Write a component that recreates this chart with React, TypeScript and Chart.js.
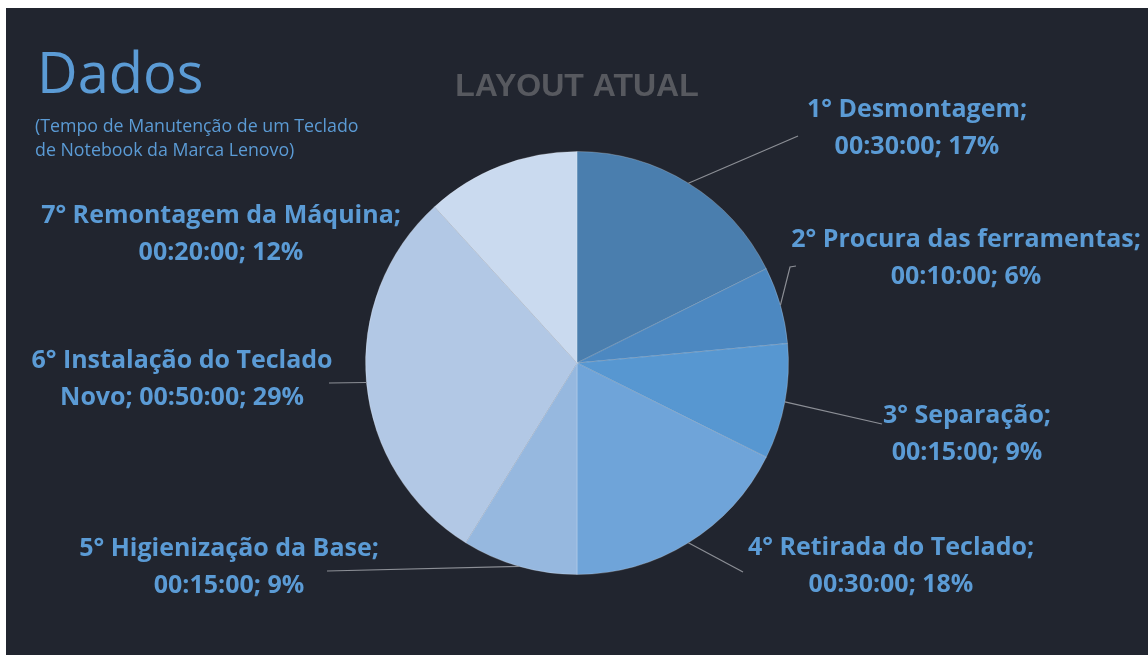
import React, { useEffect, useRef } from "react";
import { Chart, registerables } from "chart.js";

Chart.register(...registerables);

// ---- data ----
const steps = [
  "1° Desmontagem",
  "2° Procura das ferramentas",
  "3° Separação",
  "4° Retirada do Teclado",
  "5° Higienização da Base",
  "6° Instalação do Teclado Novo",
  "7° Remontagem da Máquina",
];
const durations = ["00:30:00", "00:10:00", "00:15:00", "00:30:00", "00:15:00", "00:50:00", "00:20:00"];
const minutes = [30, 10, 15, 30, 15, 50, 20];
const percentLabels = ["17%", "6%", "9%", "18%", "9%", "29%", "12%"];
const sliceColors = ["#4a7eae", "#4c88c1", "#5797d1", "#6fa4d9", "#96b8df", "#b2c8e5", "#cadaef"];

const titleText = "Dados";
const subtitleLines = ["(Tempo de Manutenção de um Teclado", "de Notebook da Marca Lenovo)"];
const headerText = "LAYOUT ATUAL";

// ---- layout (canvas coordinates) ----
const OX = 6;
const OY = 8;
const W = 1142;
const H = 647;
const BG = "#21252f";
const LABEL_COLOR = "#5b9bd5";
const LEADER_COLOR = "#8c8f96";
const LABEL_FONT = "bold 25px 'Open Sans'";
const LINE_GAP = 37;

// per-label placement: center x, first baseline, words on first line, leader end points (page coords)
const labelLayout = [
  { cx: 917, b: 117, words: 2, leader: [[798, 136]] },
  { cx: 966, b: 247, words: 4, leader: [[790, 267], [796, 266]] },
  { cx: 967, b: 423, words: 2, leader: [[882, 424]] },
  { cx: 891, b: 555, words: 4, leader: [[743, 572]] },
  { cx: 229, b: 556, words: 4, leader: [[327, 571]] },
  { cx: 182, b: 368, words: 4, leader: [[329, 383]] },
  { cx: 221, b: 223, words: 4, leader: [] as number[][] },
];

const decorPlugin = {
  id: "decor",
  afterDatasetsDraw(chart: any) {
    const ctx: CanvasRenderingContext2D = chart.ctx;
    ctx.save();

    // Title block
    ctx.fillStyle = LABEL_COLOR;
    ctx.textAlign = "left";
    ctx.textBaseline = "alphabetic";
    ctx.font = "56px 'Open Sans'";
    ctx.fillText(titleText, 37 - OX, 93 - OY);
    ctx.font = "17.8px 'Open Sans'";
    subtitleLines.forEach((l, i) => ctx.fillText(l, 35 - OX, 132 + i * 24 - OY));

    ctx.fillStyle = "#57595f";
    ctx.textAlign = "center";
    ctx.font = "bold 32px 'Liberation Sans'";
    ctx.fillText(headerText, 577 - OX, 96 - OY);

    // Leader lines + labels
    const meta = chart.getDatasetMeta(0);
    meta.data.forEach((arc: any, i: number) => {
      const p = arc.getProps(["x", "y", "startAngle", "endAngle", "outerRadius"], true);
      const mid = (p.startAngle + p.endAngle) / 2;
      const lay = labelLayout[i];
      if (lay.leader.length) {
        ctx.beginPath();
        ctx.moveTo(p.x + Math.cos(mid) * p.outerRadius, p.y + Math.sin(mid) * p.outerRadius);
        lay.leader.forEach(([x, y]) => ctx.lineTo(x - OX, y - OY));
        ctx.strokeStyle = LEADER_COLOR;
        ctx.lineWidth = 1.2;
        ctx.stroke();
      }
      ctx.font = LABEL_FONT;
      ctx.fillStyle = LABEL_COLOR;
      ctx.textAlign = "center";
      const words = `${steps[i]}; ${durations[i]}; ${percentLabels[i]}`.split(" ");
      const lines = [words.slice(0, lay.words).join(" "), words.slice(lay.words).join(" ")];
      lines.forEach((l, k) => ctx.fillText(l, lay.cx - OX, lay.b - OY + k * LINE_GAP));
    });
    ctx.restore();
  },
};

export default function App() {
  const ref = useRef<HTMLCanvasElement | null>(null);
  useEffect(() => {
    if (!ref.current) return;
    const cx = 577 - OX;
    const cy = 363 - OY;
    const r = 212;
    const chart = new Chart(ref.current, {
      type: "pie",
      data: {
        labels: steps,
        datasets: [
          {
            data: minutes,
            backgroundColor: sliceColors,
            borderColor: "rgba(255,255,255,0.22)",
            borderWidth: 1,
            hoverOffset: 0,
          },
        ],
      },
      options: {
        responsive: false,
        animation: false,
        layout: {
          padding: {
            left: cx - r,
            right: W - cx - r,
            top: cy - r - 0.5,
            bottom: H - cy - r - 0.5,
          },
        },
        plugins: {
          legend: { display: false },
          tooltip: { enabled: false },
          title: { display: false },
        },
      },
      plugins: [decorPlugin],
    });
    return () => chart.destroy();
  }, []);
  return (
    <div
      style={{
        position: "absolute",
        left: OX,
        top: OY,
        width: W,
        height: H,
        background: BG,
        overflow: "hidden",
      }}
    >
      <canvas ref={ref} width={W} height={H} style={{ display: "block" }} />
    </div>
  );
}
